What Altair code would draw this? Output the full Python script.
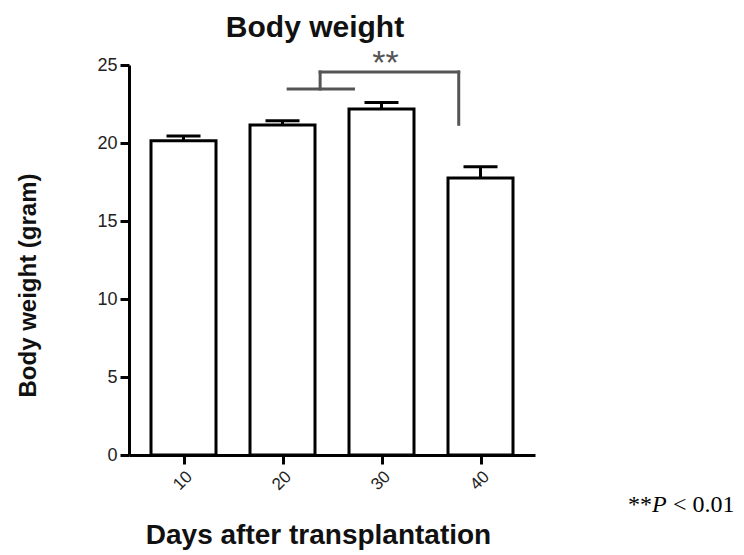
import altair as alt
import pandas as pd

# ---- data ----
days = [10, 20, 30, 40]
means = [20.15, 21.15, 22.18, 17.76]
errs = [0.3, 0.27, 0.42, 0.72]

# significance bracket segments (data units)
br_x = [20.57, 23.8, 23.8, 37.8]
br_x2 = [27.17, 23.8, 37.8, 37.8]
br_y = [23.46, 23.46, 24.55, 24.55]
br_y2 = [23.46, 24.55, 24.55, 21.2]
star_x = [30.4]
star_y = [24.42]
star_text = ["**"]

title_text = ["Body weight"]
note_parts = ["**", "P", "< 0.01"]

df = pd.DataFrame({"day": days, "mean": means, "err": errs})
df["hi"] = df["mean"] + df["err"]
br = pd.DataFrame({"x": br_x, "x2": br_x2, "y": br_y, "y2": br_y2})
st = pd.DataFrame({"x": star_x, "y": star_y, "t": star_text})

FONT = "Liberation Sans"

xscale = alt.Scale(domain=[5, 45], nice=False, zero=False)
yscale = alt.Scale(domain=[0, 25], nice=False)

xaxis = alt.Axis(
    values=days, labelAngle=-45, grid=False, title="Days after transplantation",
    titleFontSize=28, titleFont=FONT, titleFontWeight="bold", titleColor="#111",
    titleX=189, titleY=88, titleBaseline="alphabetic", titleAlign="center",
    labelFont=FONT, labelFontSize=17, labelColor="#222", labelPadding=4,
    domainColor="black", domainWidth=3, tickColor="black", tickWidth=3, tickSize=9,
)
yaxis = alt.Axis(
    values=[0, 5, 10, 15, 20, 25], grid=False, title="Body weight (gram)",
    titleFontSize=24, titleFont=FONT, titleFontWeight="bold", titleColor="#111",
    titleX=-94, titleY=220, titleBaseline="alphabetic", titleAlign="center", titleAngle=-90,
    labelFont=FONT, labelFontSize=18, labelColor="#222", labelPadding=3,
    domainColor="black", domainWidth=3, tickColor="black", tickWidth=3, tickSize=9,
)

bars = alt.Chart(df).mark_bar(size=65, fill="white", stroke="black", strokeWidth=3).encode(
    x=alt.X("day:Q", scale=xscale, axis=xaxis),
    y=alt.Y("mean:Q", scale=yscale, axis=yaxis),
)
err_line = alt.Chart(df).mark_rule(color="black", strokeWidth=3).encode(
    x="day:Q", y="mean:Q", y2="hi:Q"
)
err_cap = alt.Chart(df).mark_rule(color="black", strokeWidth=3, xOffset=-17, x2Offset=17).encode(
    x="day:Q", x2="day:Q", y="hi:Q"
)
bracket = alt.Chart(br).mark_rule(color="#555", strokeWidth=3, strokeCap="square").encode(
    x="x:Q", x2="x2:Q", y="y:Q", y2="y2:Q"
)
stars = alt.Chart(st).mark_text(
    font=FONT, fontSize=34, color="#555", baseline="alphabetic", align="center"
).encode(x="x:Q", y="y:Q", text="t:N")

title = alt.Chart(pd.DataFrame({"t": title_text})).mark_text(
    font=FONT, fontSize=30, fontWeight="bold", color="#111", align="center",
    baseline="alphabetic"
).encode(x=alt.value(186), y=alt.value(-28), text="t:N")

note_df = pd.DataFrame({"t": note_parts})
NOTE_FS = 24
n1 = alt.Chart(note_df).transform_filter(alt.datum.t == note_parts[0]).mark_text(
    font="Liberation Serif", fontSize=NOTE_FS, color="black", align="left", baseline="alphabetic"
).encode(x=alt.value(499), y=alt.value(447), text="t:N")
n2 = alt.Chart(note_df).transform_filter(alt.datum.t == note_parts[1]).mark_text(
    font="Liberation Serif", fontSize=NOTE_FS, fontStyle="italic", color="black", align="left",
    baseline="alphabetic"
).encode(x=alt.value(523), y=alt.value(447), text="t:N")
n3 = alt.Chart(note_df).transform_filter(alt.datum.t == note_parts[2]).mark_text(
    font="Liberation Serif", fontSize=NOTE_FS, color="black", align="left", baseline="alphabetic"
).encode(x=alt.value(544), y=alt.value(447), text="t:N")

chart = alt.layer(bars, err_line, err_cap, bracket, stars, title, n1, n2, n3).properties(
    width=406, height=390,
    autosize=alt.AutoSizeParams(type="none"),
    padding={"left": 121, "top": 57, "right": 201, "bottom": 100},
).configure_view(stroke=None)

chart.save("out.html", embed_options={"renderer": "svg", "actions": False})
